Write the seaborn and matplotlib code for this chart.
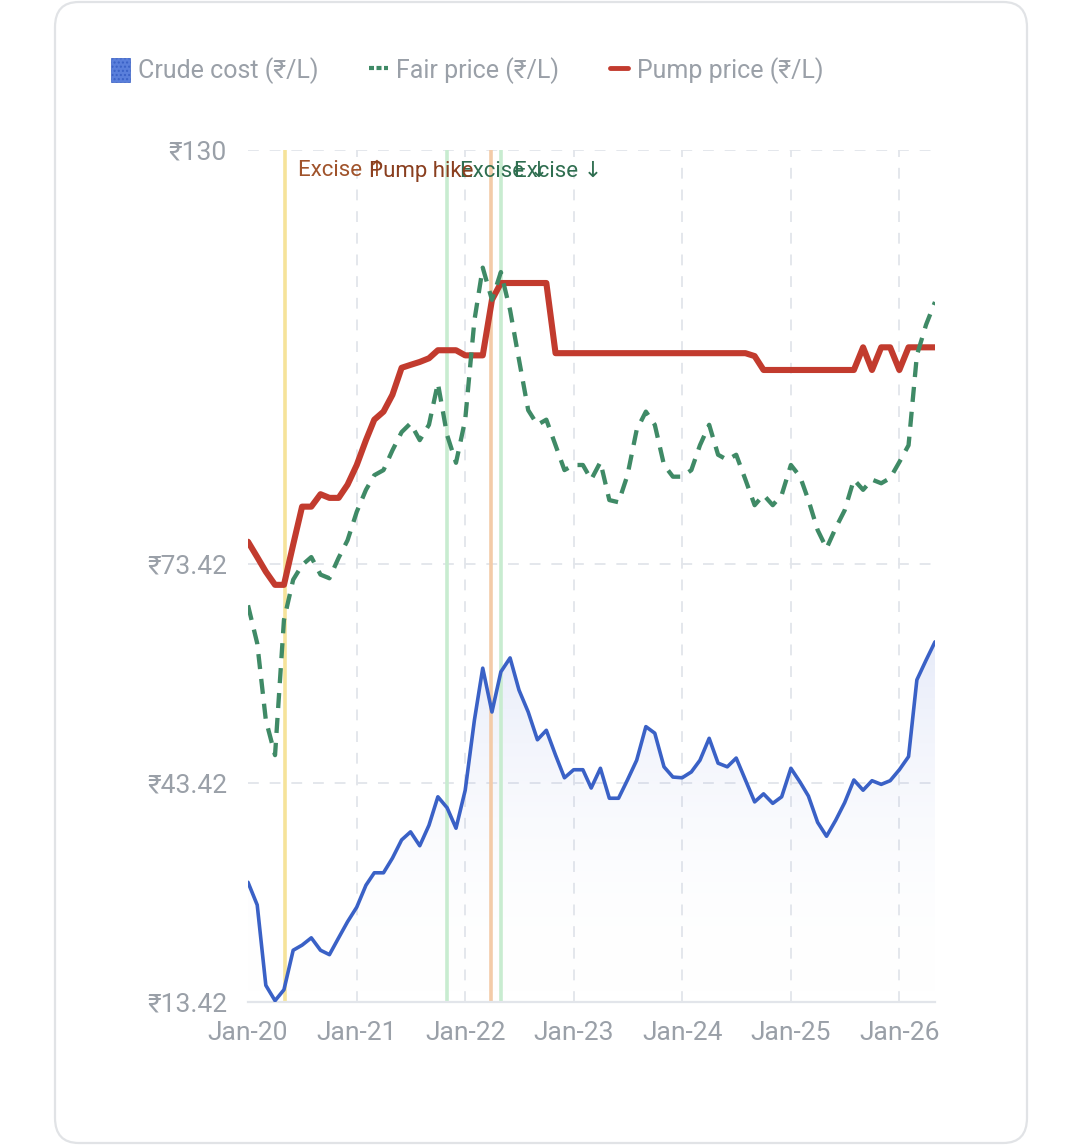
import warnings
warnings.filterwarnings("ignore")

import numpy as np
import pandas as pd
import matplotlib
matplotlib.use("Agg")
import matplotlib.pyplot as plt
import matplotlib.dates as mdates
from matplotlib.patches import Patch, FancyBboxPatch
from matplotlib.lines import Line2D
import seaborn as sns

# Monthly series, Jan-2020 .. May-2026 (Rs per litre)
months = pd.date_range("2020-01-01", periods=77, freq="MS")

crude_cost = [
    29.8, 26.7, 15.7, 13.6, 15.1, 20.5, 21.2, 22.2, 20.5, 19.9, 22.2, 24.4,
    26.4, 29.4, 31.1, 31.1, 33.1, 35.6, 36.7, 34.8, 37.6, 41.5, 40.0, 37.2,
    42.4, 52.0, 59.1, 53.1, 58.6, 60.5, 56.1, 53.1, 49.3, 50.6, 47.2, 44.1,
    45.2, 45.2, 42.7, 45.4, 41.3, 41.3, 43.8, 46.5, 51.1, 50.2, 45.6, 44.2,
    44.1, 44.9, 46.5, 49.5, 46.1, 45.6, 46.8, 43.8, 40.8, 41.9, 40.6, 41.5,
    45.4, 43.5, 41.6, 38.0, 36.1, 38.3, 40.7, 43.8, 42.4, 43.7, 43.2, 43.7,
    45.2, 47.0, 57.5, 60.2, 62.7,
]
fair_price = [
    67.7, 62.5, 52.0, 47.2, 65.7, 71.2, 73.2, 74.3, 71.9, 71.4, 74.2, 76.6,
    80.5, 83.5, 85.5, 86.2, 88.9, 91.4, 92.6, 90.3, 92.4, 98.1, 91.0, 87.2,
    93.1, 106.7, 113.9, 109.5, 113.3, 108.1, 101.3, 94.4, 92.4, 93.1, 89.6, 86.2,
    86.9, 86.9, 84.9, 87.3, 82.1, 81.8, 85.5, 91.7, 94.2, 92.4, 86.9, 85.3,
    85.3, 86.2, 89.6, 92.4, 88.3, 87.6, 88.3, 84.9, 81.4, 82.8, 81.4, 82.8,
    86.9, 85.3, 82.1, 78.0, 75.5, 78.3, 80.7, 84.9, 83.5, 84.9, 84.4, 85.1,
    87.3, 89.6, 101.9, 106.1, 109.2,
]
pump_price = [
    76.4, 74.3, 72.3, 70.5, 70.5, 76.0, 81.2, 81.2, 82.9, 82.4, 82.4, 84.2,
    86.9, 90.3, 93.1, 94.2, 96.5, 100.2, 100.6, 101.0, 101.5, 102.6, 102.6, 102.6,
    101.9, 101.9, 101.9, 109.5, 111.8, 111.8, 111.8, 111.8, 111.8, 111.8, 102.2, 102.2,
    102.2, 102.2, 102.2, 102.2, 102.2, 102.2, 102.2, 102.2, 102.2, 102.2, 102.2, 102.2,
    102.2, 102.2, 102.2, 102.2, 102.2, 102.2, 102.2, 102.2, 101.8, 99.9, 99.9, 99.9,
    99.9, 99.9, 99.9, 99.9, 99.9, 99.9, 99.9, 99.9, 103.0, 99.9, 103.0, 103.0,
    99.9, 103.0, 103.0, 103.0, 103.0,
]

event_dates = ["2020-05-03", "2021-11-01", "2022-03-30", "2022-04-30"]
event_labels = ["Excise ↑", "Excise ↓", "Pump hike", "Excise ↓"]
event_line_colors = ["#f6e39a", "#c8ecd0", "#f3cba8", "#c8ecd0"]
event_text_colors = ["#a0532b", "#2f6e50", "#8a3f1f", "#2f6e50"]

y_ticks = [13.42, 43.42, 73.42, 130]
y_labels = ["₹13.42", "₹43.42", "₹73.42", "₹130"]

BLUE = "#3a61c6"
GREEN = "#3f8a66"
RED = "#c23b2e"
GRAY = "#9aa0a8"
GRID = "#e2e5ea"

df = pd.DataFrame({"month": months, "crude": crude_cost,
                   "fair": fair_price, "pump": pump_price})

sns.set_theme(style="white")
plt.rcParams["font.family"] = ["Roboto", "Noto Sans", "DejaVu Sans"]

fig = plt.figure(figsize=(10.8, 11.46), dpi=100)
fig.patch.set_facecolor("white")

# card outline
card = FancyBboxPatch((55 / 1080, 1 - 1143 / 1146), 972 / 1080, 1141 / 1146,
                      boxstyle="round,pad=0,rounding_size=0.022",
                      transform=fig.transFigure, facecolor="none",
                      edgecolor="#e1e3e6", linewidth=1.6, zorder=-5)
fig.patches.append(card)

ax = fig.add_axes([248 / 1080, 1 - 1002 / 1146, 687 / 1080, 852 / 1146])
ax.set_facecolor("none")

x0, x1 = months[0], months[-1]

# gradient fill under crude cost
xn = mdates.date2num(months)
poly = ax.fill_between(months, crude_cost, 13.42, color="none", lw=0)
grad = np.linspace(0, 1, 256).reshape(-1, 1)
img = ax.imshow(grad, extent=[xn[0], xn[-1], 13.42, max(crude_cost)],
                origin="lower", aspect="auto", zorder=1,
                cmap=matplotlib.colors.LinearSegmentedColormap.from_list(
                    "fade", [(1, 1, 1, 0), (0.27, 0.40, 0.82, 0.13)]))
img.set_clip_path(poly.get_paths()[0], transform=ax.transData)

# event markers
for d, lab, lc, tc in zip(event_dates, event_labels, event_line_colors, event_text_colors):
    d = pd.Timestamp(d)
    ax.axvline(d, color=lc, lw=2.6, zorder=2)
    if lab == "Pump hike":
        ax.annotate(lab, xy=(d, 130), xytext=(-18, -21), textcoords="offset pixels",
                    ha="right", va="center", fontsize=16, color=tc, zorder=6)
    else:
        ax.annotate(lab, xy=(d, 130), xytext=(13, -21), textcoords="offset pixels",
                    ha="left", va="center", fontsize=16, color=tc, zorder=6)

sns.lineplot(data=df, x="month", y="crude", ax=ax, color=BLUE, lw=2.6, zorder=3,
             solid_joinstyle="round", solid_capstyle="round")
sns.lineplot(data=df, x="month", y="pump", ax=ax, color=RED, lw=4.4, zorder=4,
             solid_joinstyle="round", solid_capstyle="round")
sns.lineplot(data=df, x="month", y="fair", ax=ax, color=GREEN, lw=3.1,
             dashes=(3.5, 2.3), zorder=5, dash_joinstyle="round")

# grid
for yv in y_ticks[1:]:
    ax.axhline(yv, color=GRID, lw=1.3, dashes=(6, 6), zorder=0.5)
for yr in range(2021, 2027):
    ax.axvline(pd.Timestamp(f"{yr}-01-01"), color=GRID, lw=1.3, dashes=(6, 6), zorder=0.5)

ax.set_xlim(x0, x1)
ax.set_ylim(13.42, 130)
ax.set_yticks(y_ticks)
ax.set_yticklabels(y_labels)
ax.xaxis.set_major_locator(mdates.YearLocator())
ax.xaxis.set_major_formatter(mdates.DateFormatter("%b-%y"))
ax.tick_params(axis="both", length=0, labelsize=19, labelcolor=GRAY)
ax.tick_params(axis="y", pad=15)
ax.tick_params(axis="x", pad=14)
ax.set_xlabel("")
ax.set_ylabel("")
for s in ["top", "right", "left"]:
    ax.spines[s].set_visible(False)
ax.spines["bottom"].set_color(GRID)
ax.spines["bottom"].set_linewidth(1.6)

# legend
handles = [
    Patch(facecolor="#5a7fdb", edgecolor="#3a61c6", hatch="....", linewidth=0.5),
    Line2D([0], [0], color=GREEN, lw=3, dashes=(1.2, 0.6)),
    Line2D([0], [0], color=RED, lw=3.5),
]
labels = ["Crude cost (₹/L)", "Fair price (₹/L)", "Pump price (₹/L)"]
leg = fig.legend(handles, labels, loc="center left", bbox_to_anchor=(111 / 1080, 1 - 71 / 1146),
                 ncol=3, frameon=False, fontsize=18, handlelength=0.75, handleheight=1.15,
                 handletextpad=0.35, columnspacing=2.0, borderpad=0, borderaxespad=0)
for t in leg.get_texts():
    t.set_color(GRAY)

fig.savefig("out.png", dpi=100, facecolor="white")
